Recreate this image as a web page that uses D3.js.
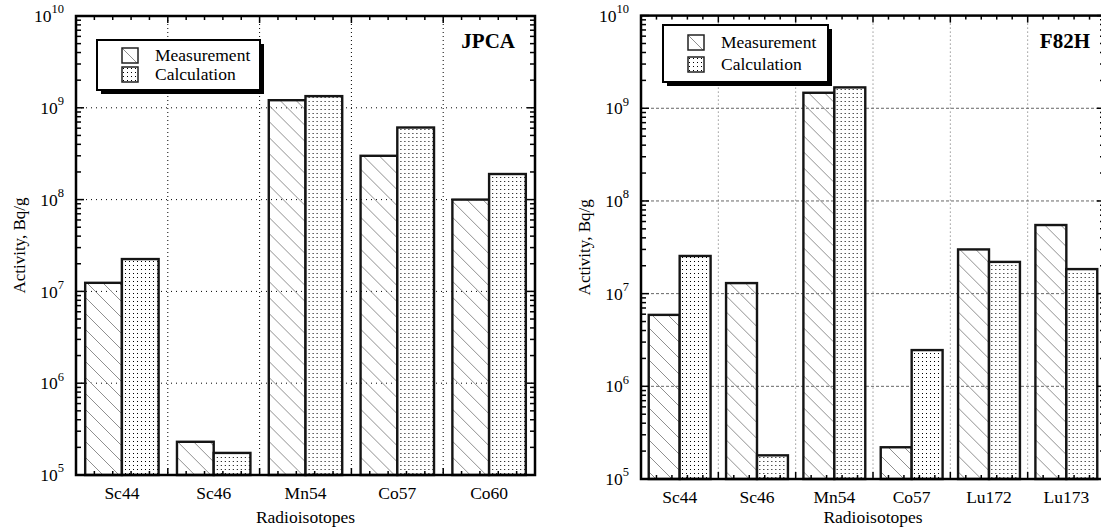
<!DOCTYPE html>
<html>
<head>
<meta charset="utf-8">
<script src="https://cdn.jsdelivr.net/npm/d3@7"></script>
<style>
  body { margin: 0; background: #fff; }
  svg text { font-family: "Liberation Serif", "DejaVu Serif", serif; }
</style>
</head>
<body>
<svg width="1101" height="530"></svg>
<script>
// values (Bq/g)
const seriesNames = ["Measurement", "Calculation"];
const decades = [5, 6, 7, 8, 9, 10];

const jpcaIsotopes = ["Sc44", "Sc46", "Mn54", "Co57", "Co60"];
const jpcaMeasurement = [1.24e7, 2.3e5, 1.21e9, 3.0e8, 1.0e8];
const jpcaCalculation = [2.25e7, 1.74e5, 1.34e9, 6.1e8, 1.9e8];

const f82hIsotopes = ["Sc44", "Sc46", "Mn54", "Co57", "Lu172", "Lu173"];
const f82hMeasurement = [5.9e6, 1.3e7, 1.47e9, 2.2e5, 3.0e7, 5.5e7];
const f82hCalculation = [2.55e7, 1.8e5, 1.68e9, 2.46e6, 2.2e7, 1.84e7];

const serif = "Liberation Serif";
const svg = d3.select("svg").attr("font-family", serif);
const defs = svg.append("defs");

const hatch = defs.append("pattern")
  .attr("id", "hatch")
  .attr("patternUnits", "userSpaceOnUse")
  .attr("width", 16).attr("height", 16);
hatch.append("path")
  .attr("d", "M-4,-4L20,20M-4,12L4,20M12,-4L20,4")
  .attr("stroke", "#8f8f8f").attr("stroke-width", 1);

const dots = defs.append("pattern")
  .attr("id", "dots")
  .attr("patternUnits", "userSpaceOnUse")
  .attr("width", 4).attr("height", 4);
dots.append("rect").attr("width", 4).attr("height", 4).attr("fill", "#fff");
dots.append("rect").attr("x", 1).attr("y", 1).attr("width", 1).attr("height", 1).attr("fill", "#000");

const fills = { Measurement: "url(#hatch)", Calculation: "url(#dots)" };

function drawPanel(p) {
  const g = svg.append("g");

  const x = d3.scaleBand().domain(p.isotopes).range([p.left, p.right]).padding(0);
  const inner = d3.scaleBand().domain(seriesNames).range([0, x.bandwidth()])
    .paddingInner(0).paddingOuter(0.25);
  const y = d3.scaleLog().domain([1e5, 1e10]).range([p.bottom, p.top]);

  // grid
  g.append("g").selectAll("line")
    .data(decades.slice(1, -1))
    .join("line")
    .attr("x1", p.left).attr("x2", p.right)
    .attr("y1", d => y(10 ** d)).attr("y2", d => y(10 ** d))
    .attr("stroke", p.gridColor).attr("stroke-width", 1)
    .attr("stroke-dasharray", p.gridDash);
  g.append("g").selectAll("line")
    .data(p.isotopes.slice(1))
    .join("line")
    .attr("x1", d => x(d)).attr("x2", d => x(d))
    .attr("y1", p.top).attr("y2", p.bottom)
    .attr("stroke", p.gridColor).attr("stroke-width", 1)
    .attr("stroke-dasharray", "1,3");

  // bars
  const rows = p.isotopes.map((iso, i) => ({
    iso,
    values: [
      { name: "Measurement", v: p.measurement[i] },
      { name: "Calculation", v: p.calculation[i] }
    ]
  }));
  g.append("g").selectAll("g")
    .data(rows)
    .join("g")
    .attr("transform", d => `translate(${x(d.iso)},0)`)
    .selectAll("rect")
    .data(d => d.values)
    .join("rect")
    .attr("x", d => inner(d.name))
    .attr("width", inner.bandwidth())
    .attr("y", d => y(d.v))
    .attr("height", d => p.bottom - y(d.v))
    .attr("fill", d => fills[d.name])
    .attr("stroke", "#151515").attr("stroke-width", 2.4);

  // y ticks (log minor + major), both sides, inward
  const yTicks = [];
  decades.forEach(dd => {
    yTicks.push({ v: 10 ** dd, major: true });
    if (dd < 10) for (let m = 2; m <= 9; m++) yTicks.push({ v: m * 10 ** dd, major: false });
  });
  [[p.left, 1], [p.right, -1]].forEach(([xx, dir]) => {
    g.append("g").selectAll("line")
      .data(yTicks)
      .join("line")
      .attr("x1", xx).attr("x2", d => xx + dir * (d.major ? 8 : 5))
      .attr("y1", d => y(d.v)).attr("y2", d => y(d.v))
      .attr("stroke", "#000").attr("stroke-width", 1.5);
  });

  // x ticks top and bottom
  const step = x.step() / 5;
  const xTicks = d3.range(0, p.isotopes.length * 5 + 1).map(k => ({ pos: p.left + k * step, major: k % 5 === 0 }));
  [[p.bottom, -1], [p.top, 1]].forEach(([yy, dir]) => {
    g.append("g").selectAll("line")
      .data(xTicks)
      .join("line")
      .attr("x1", d => d.pos).attr("x2", d => d.pos)
      .attr("y1", yy).attr("y2", d => yy + dir * (d.major ? 7 : 4))
      .attr("stroke", "#000").attr("stroke-width", 1.5);
  });

  // frame
  g.append("rect")
    .attr("x", p.left).attr("y", p.top)
    .attr("width", p.right - p.left).attr("height", p.bottom - p.top)
    .attr("fill", "none").attr("stroke", "#000").attr("stroke-width", 2.5);

  // y tick labels 10^n
  const yl = g.append("g").selectAll("text")
    .data(decades)
    .join("text")
    .attr("x", p.left - 12)
    .attr("y", d => y(10 ** d))
    .attr("dy", "0.35em")
    .attr("text-anchor", "end")
    .attr("font-family", serif)
    .attr("font-size", 17.5);
  yl.append("tspan").text("10");
  yl.append("tspan").attr("font-size", 12.5).attr("dy", "-0.7em").text(d => d);

  // x labels
  g.append("g").selectAll("text")
    .data(p.isotopes)
    .join("text")
    .attr("x", d => x(d) + x.bandwidth() / 2)
    .attr("y", p.bottom + 24)
    .attr("text-anchor", "middle")
    .attr("font-family", serif)
    .attr("font-size", 17.5)
    .text(d => d);

  g.append("text")
    .attr("x", (p.left + p.right) / 2).attr("y", 523)
    .attr("text-anchor", "middle").attr("font-size", 17.5)
    .attr("font-family", serif)
    .text("Radioisotopes");

  g.append("text")
    .attr("transform", `translate(${p.left - 51},${(p.top + p.bottom) / 2}) rotate(-90)`)
    .attr("text-anchor", "middle").attr("font-size", 17)
    .attr("font-family", serif)
    .text("Activity, Bq/g");

  // panel title
  g.append("text")
    .attr("x", p.titleX).attr("y", 48)
    .attr("text-anchor", "end").attr("font-size", 21).attr("font-weight", "bold")
    .attr("font-family", serif)
    .text(p.title);

  // legend
  const lg = g.append("g").attr("transform", `translate(${p.legX},${p.legY})`);
  lg.append("rect").attr("x", 4).attr("y", 4).attr("width", p.legW).attr("height", p.legH).attr("fill", "#000");
  lg.append("rect").attr("width", p.legW).attr("height", p.legH)
    .attr("fill", "#fff").attr("stroke", "#000").attr("stroke-width", 2);
  const item = lg.selectAll("g.item")
    .data(seriesNames)
    .join("g")
    .attr("class", "item")
    .attr("transform", (d, i) => `translate(25,${p.legRow0 + i * p.legGap})`);
  item.append("rect").attr("width", 16).attr("height", 15)
    .attr("fill", d => fills[d]).attr("stroke", "#222").attr("stroke-width", 1.5);
  item.append("text").attr("x", 33).attr("y", 13)
    .attr("font-family", serif)
    .attr("font-size", 17.5).text(d => d);
}

drawPanel({
  isotopes: jpcaIsotopes, measurement: jpcaMeasurement, calculation: jpcaCalculation,
  left: 76, right: 535, top: 16, bottom: 475,
  gridColor: "#000", gridDash: "1,4",
  title: "JPCA", titleX: 515,
  legX: 97, legY: 40, legW: 163, legH: 50, legRow0: 8, legGap: 19
});

drawPanel({
  isotopes: f82hIsotopes, measurement: f82hMeasurement, calculation: f82hCalculation,
  left: 641, right: 1105, top: 15.6, bottom: 479,
  gridColor: "#666", gridDash: "3,2",
  title: "F82H", titleX: 1090,
  legX: 663, legY: 25, legW: 165, legH: 57, legRow0: 10, legGap: 22
});
</script>
</body>
</html>
